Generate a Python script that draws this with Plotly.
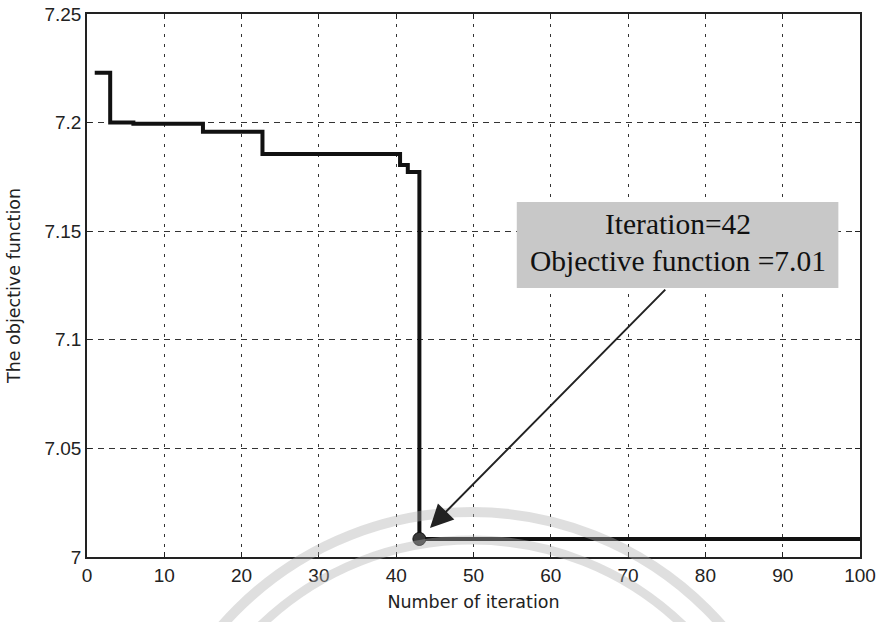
import plotly.graph_objects as go

# Data (step curve of objective function vs iteration)
iterations = [1, 3, 6, 15, 22.7, 40.5, 41.5, 43, 100]
objective = [7.223, 7.2, 7.1995, 7.1958, 7.1855, 7.1805, 7.1773, 7.0083, 7.0083]

best_iter = [43]
best_obj = [7.0083]

x_ticks = [0, 10, 20, 30, 40, 50, 60, 70, 80, 90, 100]
y_ticks = [7, 7.05, 7.1, 7.15, 7.2, 7.25]
y_tick_text = ["7", "7.05", "7.1", "7.15", "7.2", "7.25"]

ann_line1 = "Iteration=42"
ann_line2 = "Objective function =7.01"

# plot-area geometry in pixels (for watermark placement only)
PL, PR, PT, PB = 87, 860, 14, 557
W, H = 878, 622


def px_to_paper(px, py):
    return (px - PL) / (PR - PL), (PB - py) / (PB - PT)


fig = go.Figure()
fig.add_trace(go.Scatter(
    x=iterations, y=objective, mode="lines",
    line=dict(color="#111111", width=4, shape="hv"),
    showlegend=False, hoverinfo="skip"))
fig.add_trace(go.Scatter(
    x=best_iter, y=best_obj, mode="markers",
    marker=dict(color="#3a3a3a", size=13, line=dict(color="#111111", width=1)),
    showlegend=False))

# gray annotation box
fig.add_shape(type="rect", xref="x", yref="y",
              x0=55.6, x1=97.2, y0=7.1238, y1=7.1634,
              fillcolor="#c8c8c8", line=dict(width=0), layer="above")
fig.add_annotation(x=76.4, y=7.1533, xref="x", yref="y", text=ann_line1,
                   showarrow=False,
                   font=dict(family="Liberation Serif", size=29.5, color="#111111"))
fig.add_annotation(x=76.4, y=7.1362, xref="x", yref="y", text=ann_line2,
                   showarrow=False,
                   font=dict(family="Liberation Serif", size=29.5, color="#111111"))
# arrow
fig.add_annotation(x=44.37, y=7.0134, xref="x", yref="y",
                   ax=75.0, ay=7.1238, axref="x", ayref="y",
                   text="", showarrow=True, arrowhead=2, arrowsize=2.3,
                   arrowwidth=2.0, arrowcolor="#222222", standoff=0)

# faint watermark arcs (seal in the reference scan)
for radius, width in [(332, 10), (304, 9)]:
    cx, cy = 472, 844
    x0, y0 = px_to_paper(cx - radius, cy + radius)
    x1, y1 = px_to_paper(cx + radius, cy - radius)
    fig.add_shape(type="circle", xref="paper", yref="paper",
                  x0=x0, y0=y0, x1=x1, y1=y1,
                  line=dict(color="rgba(175,175,175,0.4)", width=width),
                  fillcolor="rgba(0,0,0,0)", layer="above")

tick_font = dict(family="Liberation Sans", size=19, color="#222222")
title_font = dict(family="DejaVu Sans", size=17.5, color="#222222")

axis_common = dict(
    showline=True, linecolor="#222222", linewidth=1.6, mirror="ticks",
    ticks="inside", ticklen=5, tickcolor="#222222",
    showgrid=True, gridcolor="#333333", gridwidth=1.3,
    zeroline=False, automargin=False,
    tickfont=tick_font,
)

fig.update_xaxes(range=[0, 100], tickvals=x_ticks, griddash="3px,7px",
                 title=dict(text="Number of iteration", standoff=11, font=title_font),
                 **axis_common)
fig.update_yaxes(range=[7, 7.25], tickvals=y_ticks, ticktext=y_tick_text,
                 griddash="6px,5px",
                 title=dict(text="The objective function", standoff=19, font=title_font),
                 **axis_common)

fig.update_layout(
    width=W, height=H,
    margin=dict(l=PL, r=W - PR, t=PT, b=H - PB),
    paper_bgcolor="white", plot_bgcolor="white",
)

fig.write_html("out.html",
               config={"displayModeBar": False},
               post_script="document.body.style.margin='0px';document.body.style.overflow='hidden';")
